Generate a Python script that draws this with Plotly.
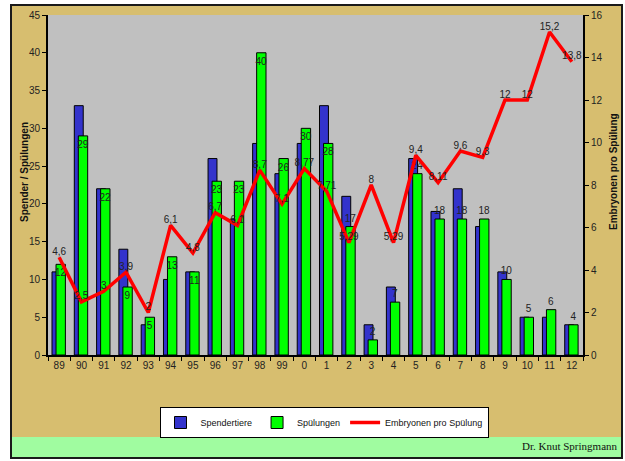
import plotly.graph_objects as go

years = ["89", "90", "91", "92", "93", "94", "95", "96", "97", "98", "99", "0",
         "1", "2", "3", "4", "5", "6", "7", "8", "9", "10", "11", "12"]
spender = [11, 33, 22, 14, 4, 10, 11, 26, 18, 28, 24, 28,
           33, 21, 4, 9, 26, 19, 22, 17, 11, 5, 5, 4]
spuelungen = [12, 29, 22, 9, 5, 13, 11, 23, 23, 40, 26, 30,
              28, 17, 2, 7, 24, 18, 18, 18, 10, 5, 6, 4]
embryonen = [4.6, 2.5, 3, 3.9, 2, 6.1, 4.8, 6.7, 6.1, 8.7, 7.1, 8.77,
             7.71, 5.29, 8, 5.29, 9.4, 8.11, 9.6, 9.3, 12, 12, 15.2, 13.8]


def fmt(v):
    return ("%g" % v).replace(".", ",")


W, H = 625, 461
L, R, T, B = 48, 583, 15, 355


def px(x):
    return (x - L) / (R - L)


def py(y):
    return (B - y) / (B - T)


FONT = "Liberation Sans, Arial, sans-serif"
TXT = "#222222"

fig = go.Figure()
fig.add_bar(
    x=years, y=spender, name="Spendertiere",
    marker=dict(color="#3333CC", line=dict(color="#000000", width=1)),
    offset=-0.32, width=0.4,
)
fig.add_bar(
    x=years, y=spuelungen, name="Spülungen",
    marker=dict(color="#00FF00", line=dict(color="#000000", width=1)),
    offset=-0.14, width=0.42,
    text=[str(v) for v in spuelungen],
    textposition=["inside"] * 13 + ["outside"] * 11,
    insidetextanchor="end", constraintext="none", textangle=0,
    textfont=dict(family=FONT, size=10, color=TXT),
    insidetextfont=dict(family=FONT, size=10, color=TXT),
    outsidetextfont=dict(family=FONT, size=10, color=TXT),
    cliponaxis=False,
)
fig.add_scatter(
    x=years, y=embryonen, yaxis="y2", mode="lines+text",
    name="Embryonen pro Spülung",
    line=dict(color="#FF0000", width=3.5),
    text=[fmt(v) for v in embryonen], textposition="top center",
    textfont=dict(family=FONT, size=10, color=TXT),
    cliponaxis=False,
)


def rect(x0, x1, y0, y1, fill, line=None, layer="below"):
    return dict(type="rect", xref="paper", yref="paper",
                x0=px(x0), x1=px(x1), y0=py(y1), y1=py(y0),
                fillcolor=fill, line=line or dict(width=0), layer=layer)


shapes = [
    rect(11, 622, 5, 458, "#D7BE6F"),
    rect(12, 621, 437, 457, "#A0FCA0"),
    rect(L, R, T, B, "#C0C0C0"),
    rect(11, 622, 5, 458, "rgba(0,0,0,0)", dict(color="#1a1a1a", width=2), "above"),
]

annotations = [
    dict(text="<b>Spender / Spülungen</b>", xref="paper", yref="paper",
         x=px(24), y=py(172), textangle=-90, showarrow=False,
         font=dict(family=FONT, size=10, color="#111111"),
         xanchor="center", yanchor="middle"),
    dict(text="<b>Embryonen pro Spülung</b>", xref="paper", yref="paper",
         x=px(613), y=py(172), textangle=-90, showarrow=False,
         font=dict(family=FONT, size=10, color="#111111"),
         xanchor="center", yanchor="middle"),
    dict(text="Dr. Knut Springmann", xref="paper", yref="paper",
         x=px(620), y=py(446), showarrow=False,
         font=dict(family="Liberation Serif, Times New Roman, serif", size=11, color="#111111"),
         xanchor="right", yanchor="middle"),
]

fig.update_layout(
    width=W, height=H,
    margin=dict(l=L, r=W - R, t=T, b=H - B, pad=0, autoexpand=False),
    paper_bgcolor="#FFFFFF",
    plot_bgcolor="rgba(0,0,0,0)",
    barmode="overlay",
    showlegend=True,
    legend=dict(
        orientation="h", x=px(324), xanchor="center", y=py(407), yanchor="top",
        bgcolor="#FFFFFF", bordercolor="#000000", borderwidth=1,
        font=dict(family=FONT, size=9, color="#111111"),
        traceorder="normal", itemwidth=30,
    ),
    xaxis=dict(
        type="category", range=[-0.5, 23.5], tickson="boundaries",
        ticks="outside", ticklen=4, tickcolor="#000000", tickwidth=1,
        showline=True, linecolor="#000000", linewidth=2,
        showgrid=False, zeroline=False,
        tickfont=dict(family=FONT, size=10, color=TXT),
    ),
    yaxis=dict(
        range=[0, 45], dtick=5, ticks="outside", ticklen=4,
        tickcolor="#000000", tickwidth=1,
        showline=True, linecolor="#000000", linewidth=2,
        showgrid=False, zeroline=False,
        tickfont=dict(family=FONT, size=10, color=TXT),
    ),
    yaxis2=dict(
        range=[0, 16], dtick=2, overlaying="y", side="right",
        ticks="outside", ticklen=4, tickcolor="#000000", tickwidth=1,
        showline=True, linecolor="#000000", linewidth=2,
        showgrid=False, zeroline=False,
        tickfont=dict(family=FONT, size=10, color=TXT),
    ),
    shapes=shapes,
    annotations=annotations,
)

fig.write_html(
    "out.html",
    config={"displayModeBar": False},
    post_script="document.body.style.margin='0';document.body.style.overflow='hidden';",
)
